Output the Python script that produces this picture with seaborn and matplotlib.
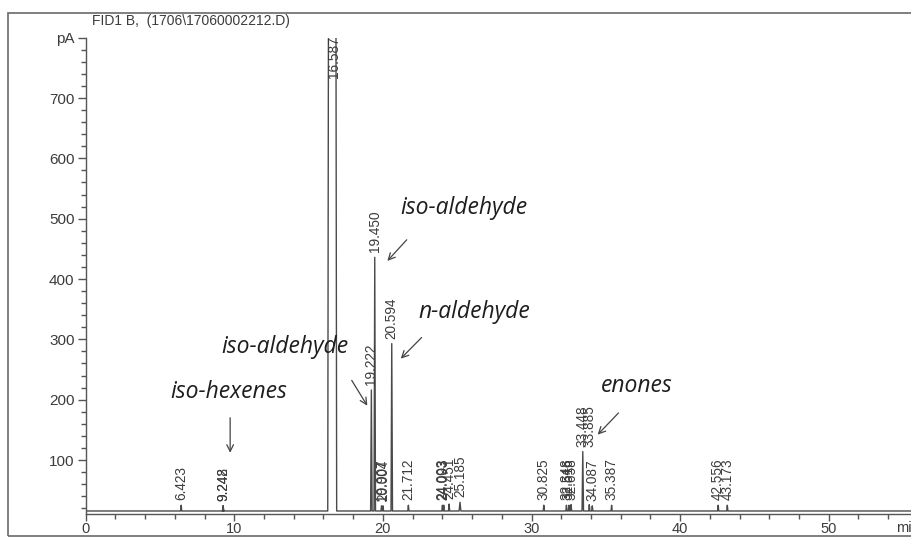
import matplotlib
matplotlib.use("Agg")
import matplotlib.pyplot as plt
from matplotlib.patches import Rectangle
from matplotlib.ticker import MultipleLocator
import pandas as pd
import seaborn as sns

# Integrated peaks: retention time (min), apex signal (pA), half base width (min)
retention_times = [6.423, 9.242, 9.248, 16.587, 19.222, 19.450, 19.907, 20.004,
                   20.594, 21.712, 24.003, 24.093, 24.451, 25.185, 30.825, 32.348,
                   32.516, 32.658, 33.448, 33.885, 34.087, 35.387, 42.556, 43.173]
peak_heights = [25, 24, 24, 5200, 216, 436, 24, 24,
                293, 25, 25, 25, 27, 30, 25, 25,
                25, 26, 114, 26, 24, 25, 25, 25]
peak_half_widths = [0.04, 0.04, 0.04, 0.30, 0.05, 0.05, 0.04, 0.04,
                    0.05, 0.04, 0.04, 0.04, 0.04, 0.06, 0.04, 0.04,
                    0.04, 0.04, 0.05, 0.04, 0.04, 0.04, 0.04, 0.04]
baseline_pa = 15.5
run_end_min = 55.6

title_text = "FID1 B,  (1706\\17060002212.D)"
y_major = [100, 200, 300, 400, 500, 600, 700, 800]
y_major_labels = ["100", "200", "300", "400", "500", "600", "700", "pA"]
x_major = [0, 10, 20, 30, 40, 50]

# compound group annotations: text, text position, arrow tail, arrow head (min, pA)
annotations = [
    ("iso-hexenes", (9.6, 212), (9.72, 170), (9.72, 112)),
    ("iso-aldehyde", (13.4, 288), (17.9, 232), (18.95, 190)),
    ("iso-aldehyde", (25.45, 517), (21.6, 465), (20.3, 430)),
    ("n-aldehyde", (26.15, 346), (22.6, 303), (21.2, 268)),
    ("enones", (37.05, 222), (35.85, 178), (34.45, 142)),
]
# labels that are lifted to sit beside a taller neighbour
label_anchor = {33.885: 33.448}

# build the detector trace from the peak table
t_pts, s_pts = [0.0], [baseline_pa]
for rt, h, hw in sorted(zip(retention_times, peak_heights, peak_half_widths)):
    t_pts += [rt - hw, rt, rt + hw]
    s_pts += [baseline_pa, h, baseline_pa]
t_pts.append(run_end_min)
s_pts.append(baseline_pa)
trace = pd.DataFrame({"time": t_pts, "signal": s_pts})

sns.set_theme(style="white")
plt.rcParams["font.family"] = ["Liberation Sans", "DejaVu Sans"]

ink = "#3c3c3c"
fig = plt.figure(figsize=(9.12, 5.37), dpi=100)
fig.patch.set_facecolor("white")
ax = fig.add_axes([85.7 / 912, (537 - 514) / 537, 1 - 85.7 / 912, (514 - 37.7) / 537])

sns.lineplot(data=trace, x="time", y="signal", sort=False, estimator=None,
             color="#4a4a4a", linewidth=1.0, ax=ax)

ax.set_xlim(0, run_end_min)
ax.set_ylim(10.5, 800)
ax.set_xlabel("")
ax.set_ylabel("")

for side in ("top", "right"):
    ax.spines[side].set_visible(False)
for side in ("left", "bottom"):
    ax.spines[side].set_color("#555555")
    ax.spines[side].set_linewidth(1.0)

ax.set_yticks(y_major)
ax.set_yticklabels(y_major_labels)
ax.yaxis.set_minor_locator(MultipleLocator(20))
ax.set_xticks(x_major)
ax.xaxis.set_minor_locator(MultipleLocator(2))
ax.tick_params(axis="y", which="major", direction="out", length=6, width=1,
               color="#555555", labelsize=11, labelcolor=ink, pad=2, left=True)
ax.tick_params(axis="x", which="major", direction="out", length=5, width=1,
               color="#555555", labelsize=10.5, labelcolor=ink, pad=1, bottom=True)
ax.tick_params(axis="both", which="minor", direction="out", length=3.5, width=1,
               color="#555555", left=True, bottom=True)

# retention time labels above each apex
lookup = dict(zip(retention_times, peak_heights))
for rt, h in zip(retention_times, peak_heights):
    if h > 800:
        ax.text(rt + 0.15, 803, f"{rt:.3f}", rotation=90, ha="center", va="top",
                fontsize=9.8, color=ink, clip_on=False)
        continue
    level = lookup[label_anchor.get(rt, rt)]
    ax.annotate(f"{rt:.3f}", xy=(rt, level), xytext=(0, 3.5), textcoords="offset points",
                rotation=90, ha="center", va="bottom", fontsize=9.8, color=ink)

for text, tpos, tail, head in annotations:
    ax.text(tpos[0], tpos[1], text, ha="center", va="center", fontsize=16.5,
            style="italic", family=["Open Sans", "DejaVu Sans"], color="#1e1e1e")
    ax.annotate("", xy=head, xytext=tail,
                arrowprops=dict(arrowstyle="->", color="#444444", lw=0.9,
                                shrinkA=0, shrinkB=0, mutation_scale=12))

fig.text(92 / 912, 1 - 21 / 537, title_text, ha="left", va="center",
         fontsize=10, color=ink)
fig.text(896 / 912, 1 - 528 / 537, "min", ha="left", va="center",
         fontsize=10.5, color=ink)

fig.patches.append(Rectangle((8 / 912, 1 / 537), 1.2, (536 - 13) / 537,
                             transform=fig.transFigure, fill=False,
                             edgecolor="#6a6a6a", linewidth=1.2))

fig.savefig("out.png", dpi=100, facecolor="white")
